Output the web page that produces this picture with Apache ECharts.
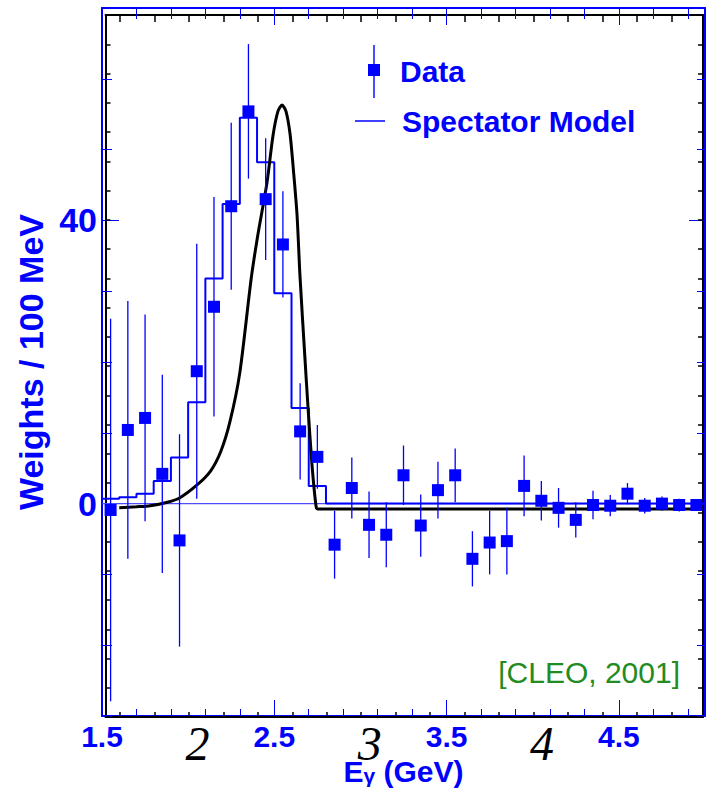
<!DOCTYPE html>
<html>
<head>
<meta charset="utf-8">
<script src="https://cdn.jsdelivr.net/npm/echarts@6/dist/echarts.min.js"></script>
<style>
html,body{margin:0;padding:0;background:#fff;}
#chart{width:712px;height:791px;}
</style>
</head>
<body>
<div id="chart"></div>
<script>
// ---- data ----
const dataX = [1.55,1.65,1.75,1.85,1.95,2.05,2.15,2.25,2.35,2.45,2.55,2.65,2.75,2.85,2.95,3.05,3.15,3.25,3.35,3.45,3.55,3.65,3.75,3.85,3.95,4.05,4.15,4.25,4.35,4.45,4.55,4.65,4.75,4.85,4.95];
const dataY = [-0.9,10.4,12.1,4.2,-5.2,18.7,27.8,42.0,55.4,43.0,36.6,10.2,6.6,-5.8,2.2,-3.0,-4.4,4.0,-3.1,1.9,4.0,-7.8,-5.5,-5.3,2.5,0.4,-0.6,-2.3,-0.2,-0.3,1.4,-0.3,0.0,-0.2,-0.2];
const dataErr = [27,18.2,14.6,14,15,18,15.5,11.8,9.5,8.6,7.5,6.8,4.5,4.8,4.3,4.7,4.6,4.2,4.4,4.0,3.8,3.9,4.5,4.7,4.3,2.8,2.8,2.5,2.0,1.5,1.5,1.1,1.0,0.9,0.8];

const histEdges = [1.5,1.6,1.7,1.8,1.9,2.0,2.1,2.2,2.3,2.4,2.5,2.6,2.7,2.8,2.9,3.0,3.1,3.2,3.3,3.4,3.5,3.6,3.7,3.8,3.9,4.0,4.1,4.2,4.3,4.4,4.5,4.6,4.7,4.8,4.9,5.0];
const histValues = [0.7,0.9,1.4,3.2,6.5,14.3,31.8,42.3,54.5,48.2,29.7,13.5,2.5,0,0,0,0,0,0,0,0,0,0,0,0,0,0,0,0,0,0,0,0,0,0];

const modelX = [1.60,1.70,1.78,1.88,1.95,2.05,2.13,2.19,2.243,2.30,2.366,2.405,2.458,2.492,2.521,2.545,2.568,2.591,2.609,2.632,2.649,2.678,2.696,2.719,2.742,2.75,4.99];
const modelY = [-0.6,-0.45,-0.3,0.2,0.8,2.6,4.6,7.4,11.6,18.5,31.8,38.0,45.4,51.9,55.4,56.3,55.4,52.3,47.7,40.8,32.2,20.5,13.5,5.4,-0.3,-0.75,-0.75];

// tick labels
const xLabelValues = [1.5,2.5,3.5,4.5];
const xLabels = ['1.5','2.5','3.5','4.5'];
const yLabelValues = [0,40];
const yLabels = ['0','40'];
const blackXLabelValues = [2,3,4];
const blackXLabels = ['2','3','4'];
const blackXTicks = [1.55,1.75,1.95,2.15,2.35,2.55,2.75,2.95,3.15,3.35,3.55,3.75,3.95,4.15,4.35,4.55,4.75];

const BLUE = '#0000ff';
const SANS = 'Liberation Sans, Arial, sans-serif';

function lab(values, labels){
  return function(v){
    for (let i=0;i<values.length;i++){ if (Math.abs(values[i]-v)<1e-6) return labels[i]; }
    return '';
  };
}

const histData = histEdges.map((x,i)=>[x, i<histValues.length ? histValues[i] : histValues[histValues.length-1]]);
const zeroData = [[histEdges[0],0],[histEdges[histEdges.length-1],0]];
const modelData = modelX.map((x,i)=>[x, modelY[i]]);
const pointData = dataX.map((x,i)=>[x, dataY[i]]);
const errData = dataX.map((x,i)=>[x, dataY[i], dataErr[i]]);

const chart = echarts.init(document.getElementById('chart'), null, {renderer:'svg'});

const blueLine = {show:true, onZero:false, lineStyle:{color:BLUE, width:2}};
const blackLine = {show:true, onZero:false, lineStyle:{color:'#000', width:2}};
const noLine = {show:false, onZero:false};

const option = {
  animation:false,
  backgroundColor:'#fff',
  grid:[
    {left:102, top:8, width:603, height:711},
    {left:105.5, top:15, width:597.5, height:702}
  ],
  legend:[
    {
      data:['Data'], left:363, top:40, orient:'vertical',
      itemWidth:12, itemHeight:53,
      icon:'path://M5.3,0h1.4v53h-1.4z M0,19h12v12h-12z',
      textStyle:{color:BLUE, fontFamily:SANS, fontWeight:'bold', fontSize:30, padding:[0,0,0,15]},
      selectedMode:false
    },
    {
      data:['Spectator Model'], left:350, top:101, orient:'vertical',
      itemWidth:30, itemHeight:1.5, icon:'rect',
      textStyle:{color:BLUE, fontFamily:SANS, fontWeight:'bold', fontSize:30, padding:[0,0,0,12]},
      selectedMode:false
    }
  ],
  xAxis:[
    { // 0 blue bottom, minor ticks + labels
      type:'value', gridIndex:0, position:'bottom', min:1.5, max:5.0, interval:0.2,
      axisLine:blueLine,
      axisTick:{show:true, inside:true, length:7, lineStyle:{color:BLUE, width:1}},
      axisLabel:{show:true, customValues:xLabelValues, formatter:lab(xLabelValues,xLabels), color:BLUE, fontFamily:SANS, fontWeight:'bold', fontSize:30, margin:5},
      splitLine:{show:false},
      name:'{a|E}{b|γ}{a| (GeV)}', nameLocation:'middle', nameGap:34,
      nameTextStyle:{color:BLUE, fontFamily:SANS, fontWeight:'bold',
        rich:{a:{color:BLUE, fontFamily:SANS, fontWeight:'bold', fontSize:30, lineHeight:36, verticalAlign:'bottom'},
              b:{color:BLUE, fontFamily:SANS, fontWeight:'bold', fontSize:21, lineHeight:12, verticalAlign:'bottom'}}}
    },
    { // 1 blue bottom major ticks
      type:'value', gridIndex:0, position:'bottom', min:1.5, max:5.0, interval:1,
      axisLine:noLine,
      axisTick:{show:true, inside:true, length:16, lineStyle:{color:BLUE, width:1}},
      axisLabel:{show:false}, splitLine:{show:false}
    },
    { // 2 blue top minor
      type:'value', gridIndex:0, position:'top', min:1.5, max:5.0, interval:0.2,
      axisLine:blueLine,
      axisTick:{show:true, inside:true, length:11, lineStyle:{color:BLUE, width:1}},
      axisLabel:{show:false}, splitLine:{show:false}
    },
    { // 3 blue top major
      type:'value', gridIndex:0, position:'top', min:1.5, max:5.0, interval:1,
      axisLine:noLine,
      axisTick:{show:true, inside:true, length:17, lineStyle:{color:BLUE, width:1}},
      axisLabel:{show:false}, splitLine:{show:false}
    },
    { // 4 black bottom
      type:'value', gridIndex:1, position:'bottom', min:1.466, max:4.934,
      axisLine:blackLine,
      axisTick:{show:true, inside:true, length:5, customValues:blackXTicks, lineStyle:{color:'#000', width:1.5}},
      axisLabel:{show:true, customValues:blackXLabelValues, formatter:lab(blackXLabelValues,blackXLabels), color:'#000', fontFamily:'Liberation Serif, Times New Roman, serif', fontStyle:'italic', fontSize:48, margin:2},
      splitLine:{show:false}
    },
    { // 5 black top
      type:'value', gridIndex:1, position:'top', min:1.466, max:4.934,
      axisLine:blackLine,
      axisTick:{show:true, inside:true, length:7, customValues:blackXTicks, lineStyle:{color:'#000', width:1.5}},
      axisLabel:{show:false}, splitLine:{show:false}
    }
  ],
  yAxis:[
    { // 0 blue left
      type:'value', gridIndex:0, position:'left', min:-30, max:70, interval:10,
      axisLine:blueLine,
      axisTick:{show:true, inside:true, length:10, lineStyle:{color:BLUE, width:1}},
      axisLabel:{show:true, customValues:yLabelValues, formatter:lab(yLabelValues,yLabels), color:BLUE, fontFamily:SANS, fontWeight:'bold', fontSize:34, margin:5},
      splitLine:{show:false},
      name:'Weights / 100 MeV', nameLocation:'middle', nameRotate:90, nameGap:42,
      nameTextStyle:{color:BLUE, fontFamily:SANS, fontWeight:'bold', fontSize:34}
    },
    { // 1 blue left long ticks
      type:'value', gridIndex:0, position:'left', min:-30, max:70,
      axisLine:noLine,
      axisTick:{show:true, inside:true, length:17, customValues:yLabelValues, lineStyle:{color:BLUE, width:1}},
      axisLabel:{show:false}, splitLine:{show:false}
    },
    { // 2 blue right
      type:'value', gridIndex:0, position:'right', min:-30, max:70, interval:10,
      axisLine:blueLine,
      axisTick:{show:true, inside:true, length:8, lineStyle:{color:BLUE, width:1}},
      axisLabel:{show:false}, splitLine:{show:false}
    },
    { // 3 blue right long ticks
      type:'value', gridIndex:0, position:'right', min:-30, max:70,
      axisLine:noLine,
      axisTick:{show:true, inside:true, length:16, customValues:yLabelValues, lineStyle:{color:BLUE, width:1}},
      axisLabel:{show:false}, splitLine:{show:false}
    },
    { // 4 black left
      type:'value', gridIndex:1, position:'left', min:-7, max:17, interval:1,
      axisLine:blackLine,
      axisTick:{show:true, inside:true, length:5, lineStyle:{color:'#000', width:1.5}},
      axisLabel:{show:false}, splitLine:{show:false}
    },
    { // 5 black right
      type:'value', gridIndex:1, position:'right', min:-7, max:17, interval:1,
      axisLine:blackLine,
      axisTick:{show:true, inside:true, length:5, lineStyle:{color:'#000', width:1.5}},
      axisLabel:{show:false}, splitLine:{show:false}
    }
  ],
  series:[
    {
      name:'Zero', type:'line', xAxisIndex:0, yAxisIndex:0,
      data:zeroData, showSymbol:false, symbol:'none', silent:true,
      lineStyle:{color:'#4d4dff', width:1.2}, itemStyle:{color:'#4d4dff'}, z:2
    },
    {
      name:'Spectator Model', type:'line', xAxisIndex:0, yAxisIndex:0,
      step:'end', data:histData, showSymbol:false, symbol:'none',
      lineStyle:{color:BLUE, width:2}, itemStyle:{color:BLUE}, z:3
    },
    {
      name:'Model curve', type:'line', xAxisIndex:0, yAxisIndex:0,
      data:modelData, smooth:0.25, showSymbol:false, symbol:'none',
      lineStyle:{color:'#000', width:3}, itemStyle:{color:'#000'}, z:4
    },
    {
      name:'Data error', type:'custom', xAxisIndex:0, yAxisIndex:0,
      data:errData, z:5,
      renderItem:function(params, api){
        const x = api.value(0), y = api.value(1), e = api.value(2);
        const p1 = api.coord([x, y+e]);
        const p2 = api.coord([x, y-e]);
        return {type:'line', shape:{x1:p1[0], y1:p1[1], x2:p2[0], y2:p2[1]},
                style:{stroke:BLUE, lineWidth:1.3}};
      }
    },
    {
      name:'Data', type:'scatter', xAxisIndex:0, yAxisIndex:0,
      data:pointData, symbol:'rect', symbolSize:12,
      itemStyle:{color:BLUE, opacity:1}, z:6
    }
  ],
  graphic:[
    {type:'text', right:32, top:657, z:10,
     style:{text:'[CLEO, 2001]', fill:'#228b22', fontFamily:SANS, fontSize:30}}
  ]
};
chart.setOption(option);
</script>
</body>
</html>
